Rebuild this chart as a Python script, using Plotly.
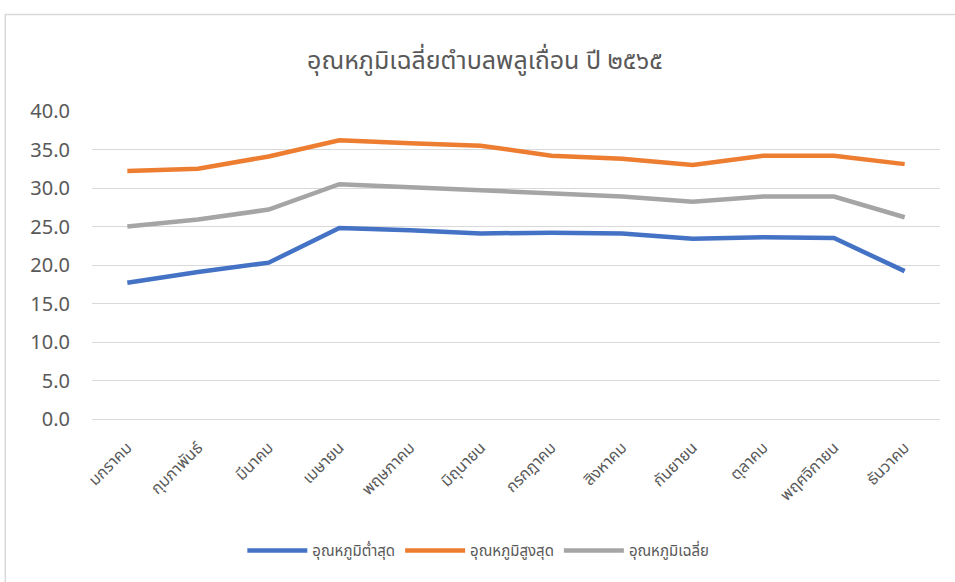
import plotly.graph_objects as go

months = ["มกราคม", "กุมภาพันธ์", "มีนาคม", "เมษายน", "พฤษภาคม", "มิถุนายน",
          "กรกฎาคม", "สิงหาคม", "กันยายน", "ตุลาคม", "พฤศจิกายน", "ธันวาคม"]
t_min = [17.7, 19.1, 20.3, 24.8, 24.5, 24.1, 24.2, 24.1, 23.4, 23.6, 23.5, 19.2]
t_max = [32.2, 32.5, 34.1, 36.2, 35.8, 35.5, 34.2, 33.8, 33.0, 34.2, 34.2, 33.1]
t_avg = [25.0, 25.9, 27.2, 30.5, 30.1, 29.7, 29.2, 28.9, 28.2, 28.9, 28.9, 26.2]
names = ["อุณหภูมิต่ำสุด", "อุณหภูมิสูงสุด", "อุณหภูมิเฉลี่ย"]
colors = ["#4472C4", "#ED7D31", "#A5A5A5"]
y_ticks = [0, 5, 10, 15, 20, 25, 30, 35, 40]

W, H = 955, 582
L, R, T, B = 91.7, 939.6, 110.7, 419.0

fig = go.Figure()
for vals, nm, c in zip([t_min, t_max, t_avg], names, colors):
    fig.add_trace(go.Scatter(x=months, y=vals, name=nm, mode="lines",
                             line=dict(color=c, width=4.5)))

def px(x):
    return (x - L) / (R - L)

def py(y):
    return (B - y) / (B - T)

font_fam = "Noto Sans Thai, Tahoma, Leelawadee UI, Noto Sans, DejaVu Sans, sans-serif"
fig.update_layout(
    width=W, height=H,
    margin=dict(l=L, r=W - R, t=T, b=H - B, autoexpand=False),
    paper_bgcolor="white", plot_bgcolor="white",
    font=dict(family=font_fam, color="#595959"),
    title=dict(text="อุณหภูมิเฉลี่ยตำบลพลูเถื่อน ปี ๒๕๖๕", xref="container", x=485 / W,
               xanchor="center", yref="container", y=1 - 60 / H, yanchor="middle",
               font=dict(size=25, color="#595959")),
    showlegend=True,
    legend=dict(orientation="h", x=px(478), xanchor="center", y=py(551), yanchor="middle",
                font=dict(size=15, color="#595959"), itemwidth=60, bgcolor="rgba(0,0,0,0)"),
    xaxis=dict(type="category", tickangle=-45, showgrid=False, showline=True,
               linecolor="#D9D9D9", linewidth=1, ticks="", tickfont=dict(size=16, color="#595959"),
               ticklabelstandoff=12, range=[-0.5, len(months) - 0.5]),
    yaxis=dict(range=[0, 40], tickvals=y_ticks, tickformat=".1f", showgrid=True,
               gridcolor="#D9D9D9", gridwidth=1, zeroline=False, showline=False,
               ticks="", tickfont=dict(size=20, color="#595959"), ticklabelstandoff=21),
    shapes=[dict(type="rect", xref="paper", yref="paper",
                 x0=px(5), x1=px(960), y0=py(590), y1=py(14),
                 line=dict(color="#D9D9D9", width=1.5), fillcolor="rgba(0,0,0,0)", layer="below")],
)

fig.write_html("out.html", config={"displayModeBar": False},
               post_script="document.body.style.margin='0';document.body.style.padding='0';document.body.style.overflow='hidden';")
